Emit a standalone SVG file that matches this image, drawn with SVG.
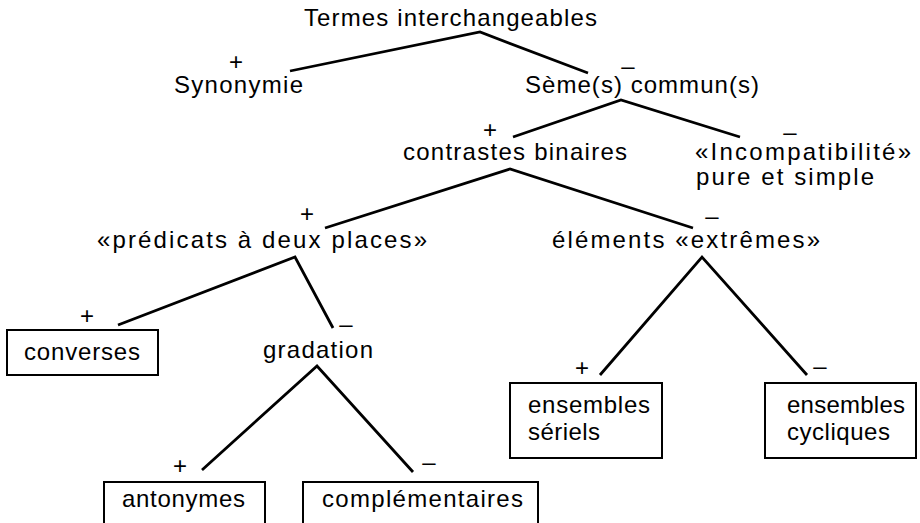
<svg xmlns="http://www.w3.org/2000/svg" width="920" height="523" viewBox="0 0 920 523">
<style>
text{font-family:"Liberation Sans",Arial,sans-serif;font-size:24px;fill:#000}
.s{text-anchor:middle}
.c{fill:none;stroke:#000;stroke-width:2.8;stroke-linejoin:miter}
.b{fill:none;stroke:#000;stroke-width:2}
</style>
<rect width="920" height="523" fill="#fff"/>
<g id="connectors">
<polyline class="c" points="290,71 480,32 588,73"/>
<polyline class="c" points="513,137 621,100 740,137"/>
<polyline class="c" points="325,228 510,169 693,228"/>
<polyline class="c" points="118,325 295,257 333,328"/>
<polyline class="c" points="202,470 317,366 413,472"/>
<polyline class="c" points="600,375 702,257 807,375"/>
</g>
<g id="n-termes"><text x="304" y="26" textLength="293" lengthAdjust="spacing">Termes interchangeables</text></g>
<g id="n-synonymie"><text class="s" x="236" y="70">+</text><text x="174" y="93" textLength="129" lengthAdjust="spacing">Synonymie</text></g>
<g id="n-seme"><text class="s" x="628" y="74">–</text><text x="525" y="93" textLength="234" lengthAdjust="spacing">Sème(s) commun(s)</text></g>
<g id="n-contrastes"><text class="s" x="490" y="138">+</text><text x="403" y="160" textLength="224" lengthAdjust="spacing">contrastes binaires</text></g>
<g id="n-incompat"><text class="s" x="790" y="140">–</text><text x="695" y="160" textLength="216" lengthAdjust="spacing">«Incompatibilité»</text><text x="696" y="185" textLength="178" lengthAdjust="spacing">pure et simple</text></g>
<g id="n-predicats"><text class="s" x="307" y="222">+</text><text x="97" y="248" textLength="330" lengthAdjust="spacing">«prédicats à deux places»</text></g>
<g id="n-elements"><text class="s" x="712" y="224">–</text><text x="552" y="248" textLength="268" lengthAdjust="spacing">éléments «extrêmes»</text></g>
<g id="n-converses"><text class="s" x="87" y="324">+</text><rect class="b" x="7" y="330" width="151" height="45"/><text x="24" y="360" textLength="116" lengthAdjust="spacing">converses</text></g>
<g id="n-gradation"><text class="s" x="346" y="332">–</text><text x="263" y="358" textLength="110" lengthAdjust="spacing">gradation</text></g>
<g id="n-antonymes"><text class="s" x="180" y="474">+</text><rect class="b" x="104" y="482" width="161" height="60"/><text x="122" y="507" textLength="123" lengthAdjust="spacing">antonymes</text></g>
<g id="n-complementaires"><text class="s" x="429" y="470">–</text><rect class="b" x="303" y="482" width="235" height="60"/><text x="322" y="507" textLength="201" lengthAdjust="spacing">complémentaires</text></g>
<g id="n-seriels"><text class="s" x="582" y="376">+</text><rect class="b" x="510" y="383" width="152" height="75"/><text x="528" y="413" textLength="122" lengthAdjust="spacing">ensembles</text><text x="528" y="440" textLength="72" lengthAdjust="spacing">sériels</text></g>
<g id="n-cycliques"><text class="s" x="820" y="374">–</text><rect class="b" x="765" y="383" width="151" height="75"/><text x="787" y="413" textLength="118" lengthAdjust="spacing">ensembles</text><text x="787" y="440" textLength="103" lengthAdjust="spacing">cycliques</text></g>
</svg>
